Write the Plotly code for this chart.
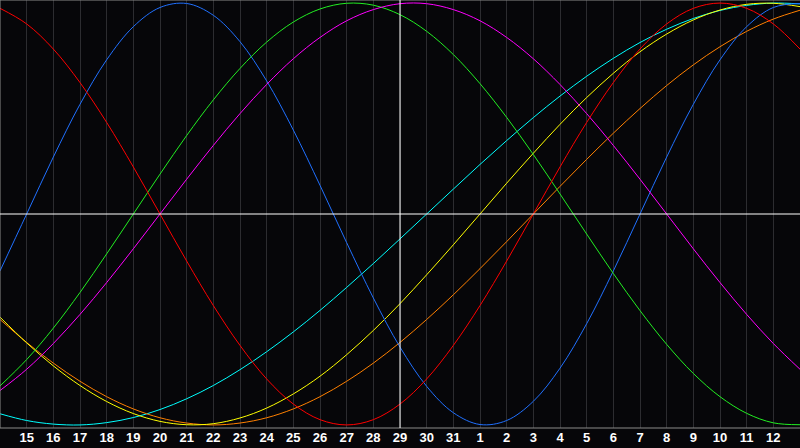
import plotly.graph_objects as go

# Day positions (continuous day index) and their labels
days = list(range(14, 45))
tick_days = list(range(15, 44))
tick_labels = ["15", "16", "17", "18", "19", "20", "21", "22", "23", "24", "25", "26", "27", "28",
               "29", "30", "31", "1", "2", "3", "4", "5", "6", "7", "8", "9", "10", "11", "12"]
today = 29

# Cycle values at each day (14 .. 44)
blue = [-0.27, 0, 0.27, 0.52, 0.731, 0.888, 0.979, 0.998, 0.942, 0.817, 0.631, 0.398, 0.136, -0.136,
        -0.398, -0.631, -0.817, -0.942, -0.998, -0.979, -0.888, -0.731, -0.52, -0.27, 0, 0.27, 0.52,
        0.731, 0.888, 0.979, 0.998]
red = [0.975, 0.901, 0.782, 0.623, 0.434, 0.223, 0, -0.223, -0.434, -0.623, -0.782, -0.901, -0.975,
       -1.0, -0.975, -0.901, -0.782, -0.623, -0.434, -0.223, 0, 0.223, 0.434, 0.623, 0.782, 0.901,
       0.975, 1.0, 0.975, 0.901, 0.782]
green = [-0.815, -0.69, -0.541, -0.372, -0.189, 0, 0.189, 0.372, 0.541, 0.69, 0.815, 0.91, 0.972,
         0.999, 0.99, 0.945, 0.866, 0.756, 0.618, 0.458, 0.282, 0.095, -0.095, -0.282, -0.458,
         -0.618, -0.756, -0.866, -0.945, -0.99, -0.999]
magenta = [-0.837, -0.736, -0.614, -0.476, -0.325, -0.165, 0, 0.165, 0.325, 0.476, 0.614, 0.736,
           0.837, 0.916, 0.969, 0.997, 0.997, 0.969, 0.916, 0.837, 0.736, 0.614, 0.476, 0.325,
           0.165, 0, -0.165, -0.325, -0.476, -0.614, -0.736]
cyan = [-0.947, -0.979, -0.996, -1.0, -0.989, -0.965, -0.927, -0.876, -0.813, -0.738, -0.653, -0.559,
        -0.457, -0.348, -0.235, -0.118, 0, 0.118, 0.235, 0.348, 0.457, 0.559, 0.653, 0.738, 0.813,
        0.876, 0.927, 0.965, 0.989, 1.0, 0.996]
yellow = [-0.489, -0.611, -0.72, -0.813, -0.889, -0.946, -0.983, -0.999, -0.994, -0.967, -0.92,
          -0.853, -0.769, -0.667, -0.552, -0.425, -0.288, -0.146, 0, 0.146, 0.288, 0.425, 0.552,
          0.667, 0.769, 0.853, 0.92, 0.967, 0.994, 0.999, 0.983]
orange = [-0.5, -0.609, -0.707, -0.793, -0.866, -0.924, -0.966, -0.991, -1.0, -0.991, -0.966, -0.924,
          -0.866, -0.793, -0.707, -0.609, -0.5, -0.383, -0.259, -0.131, 0, 0.131, 0.259, 0.383,
          0.5, 0.609, 0.707, 0.793, 0.866, 0.924, 0.966]

series = [
    ("cyan", cyan, "#00ffff"),
    ("orange", orange, "#ff8000"),
    ("yellow", yellow, "#ffff00"),
    ("blue", blue, "#2070ff"),
    ("green", green, "#22ee22"),
    ("magenta", magenta, "#ff00ff"),
    ("red", red, "#ff0000"),
]

fig = go.Figure()
for name, vals, col in series:
    fig.add_trace(go.Scatter(x=days, y=vals, mode="lines", name=name,
                             line=dict(color=col, width=1, shape="spline"),
                             hoverinfo="skip"))

bg = "#060609"
fig.update_layout(
    width=800, height=448,
    margin=dict(l=0, r=0, t=0, b=20, pad=0),
    paper_bgcolor=bg, plot_bgcolor=bg,
    showlegend=False,
    hovermode=False,
    xaxis=dict(range=[14, 44], tickvals=tick_days, ticktext=tick_labels,
               showgrid=True, gridcolor="#2c2c30", gridwidth=1, zeroline=False,
               showline=False, ticks="", automargin=False,
               tickfont=dict(family="Liberation Sans", size=13, color="white", weight="bold")),
    yaxis=dict(range=[-1.0145, 1.0145], showgrid=False, zeroline=False,
               showticklabels=False, ticks="", automargin=False),
    shapes=[
        dict(type="line", xref="paper", yref="paper", x0=0, x1=1, y0=1, y1=1,
             line=dict(color="#8a8a8a", width=1)),
        dict(type="line", xref="paper", yref="paper", x0=0, x1=0, y0=0, y1=1,
             line=dict(color="#8a8a8a", width=1)),
        dict(type="line", xref="paper", yref="paper", x0=0, x1=1, y0=0, y1=0,
             line=dict(color="#8a8a8a", width=1)),
        dict(type="line", xref="paper", yref="y", x0=0, x1=1, y0=0, y1=0,
             line=dict(color="white", width=1)),
        dict(type="line", xref="x", yref="paper", x0=today, x1=today, y0=0, y1=1,
             line=dict(color="white", width=1)),
    ],
)

fig.write_html("out.html",
               config={"displayModeBar": False, "staticPlot": True},
               post_script="document.body.style.margin='0px';document.body.style.padding='0px';"
                           "document.body.style.background='" + bg + "';")
